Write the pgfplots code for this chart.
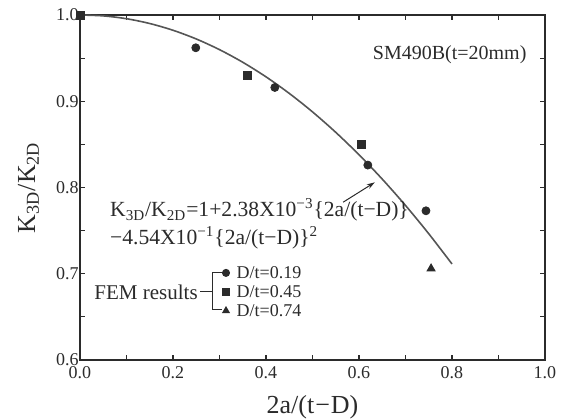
\documentclass[border=0pt]{standalone}
\usepackage{fontspec}
\setmainfont{Liberation Serif}
\usepackage{pgfplots}
\pgfplotsset{compat=1.18}
\usetikzlibrary{arrows.meta}
\definecolor{ink}{HTML}{2B2B2B}
\definecolor{curve}{HTML}{555555}

\begin{document}
\begin{tikzpicture}
\path[use as bounding box] (-40pt,-29.5pt) rectangle (244.5pt,180pt);
\begin{axis}[
  scale only axis,
  width=232.5pt, height=172.5pt,
  xmin=0, xmax=1, ymin=0.6, ymax=1.0,
  xtick={0,0.2,...,1.0}, ytick={0.6,0.7,...,1.0},
  minor x tick num=1, minor y tick num=1,
  tick align=inside,
  major tick length=2.5pt, minor tick length=2.5pt,
  axis line style={ink, line width=0.9pt},
  tick style={ink, line width=0.6pt},
  /pgf/number format/assume math mode=true,
  /pgf/number format/.cd, fixed, fixed zerofill, precision=1, /pgfplots/.cd,
  tick label style={font=\fontsize{9}{10}\selectfont, text=ink},
  yticklabel style={inner sep=0.5pt},
  xticklabel style={inner sep=1pt, yshift=-2pt},
  label style={font=\fontsize{13}{15}\selectfont, text=ink},
  xlabel={2a/(t\kern0.5pt−\kern0.5pt D)},
  xlabel style={yshift=-4pt},
  ylabel={K\textsubscript{3D}/K\textsubscript{2D}},
  ylabel style={yshift=4.5pt},
  clip=false,
]
% fitted curve K3D/K2D = 1 + 2.38e-3 x - 4.54e-1 x^2
\addplot[curve, line width=0.8pt, smooth] coordinates {
  (0,1.0) (0.05,0.99898) (0.1,0.99570) (0.15,0.99014) (0.2,0.98232)
  (0.25,0.97222) (0.3,0.95985) (0.35,0.94522) (0.4,0.92831) (0.45,0.90914)
  (0.5,0.88769) (0.55,0.86397) (0.6,0.83799) (0.65,0.80973) (0.7,0.77921)
  (0.75,0.74641) (0.8,0.71134)};

% FEM results
\addplot[only marks, mark=*, mark size=2pt, ink] coordinates {
  (0.249,0.962) (0.419,0.916) (0.619,0.826) (0.744,0.773)};
\addplot[only marks, mark=square*, mark size=2pt, ink] coordinates {
  (0,1.0) (0.361,0.930) (0.606,0.850)};
\addplot[only marks, mark=triangle*, mark size=2.3pt, ink] coordinates {
  (0.755,0.706)};

% legend block
\addplot[only marks, mark=*, mark size=1.8pt, ink] coordinates {(0.314,0.701)};
\addplot[only marks, mark=square*, mark size=1.8pt, ink] coordinates {(0.314,0.679)};
\addplot[only marks, mark=triangle*, mark size=2pt, ink] coordinates {(0.314,0.657)};
\draw[ink, line width=0.5pt] (axis cs:0.258,0.679) -- (axis cs:0.286,0.679);
\draw[ink, line width=0.5pt] (axis cs:0.305,0.701) -- (axis cs:0.286,0.701)
  -- (axis cs:0.286,0.658) -- (axis cs:0.305,0.658);

\begin{scope}[every node/.style={font=\fontsize{9}{10}\selectfont, text=ink, inner sep=0pt}]
\node[anchor=east, font=\fontsize{10.5}{12}\selectfont] at (axis cs:0.254,0.679) {FEM results};
\node[anchor=west] at (axis cs:0.336,0.701) {D/t=0.19};
\node[anchor=west] at (axis cs:0.336,0.679) {D/t=0.45};
\node[anchor=west] at (axis cs:0.336,0.657) {D/t=0.74};
\node[anchor=east, font=\fontsize{10}{12}\selectfont] at (axis cs:0.961,0.954) {SM490B(t=20mm)};
\node[anchor=base west, font=\fontsize{10.8}{12}\selectfont] at (axis cs:0.064,0.766)
  {K\textsubscript{3D}/K\textsubscript{2D}=1+2.38X10\textsuperscript{−3}\{2a/(t−D)\}};
\node[anchor=base west, font=\fontsize{10.8}{12}\selectfont] at (axis cs:0.064,0.734)
  {−4.54X10\textsuperscript{−1}\{2a/(t−D)\}\textsuperscript{2}};
\end{scope}

\draw[ink, line width=0.5pt, -{Stealth[length=4pt,width=2.5pt]}]
  (axis cs:0.566,0.783) -- (axis cs:0.634,0.806);
\end{axis}
\end{tikzpicture}
\end{document}
